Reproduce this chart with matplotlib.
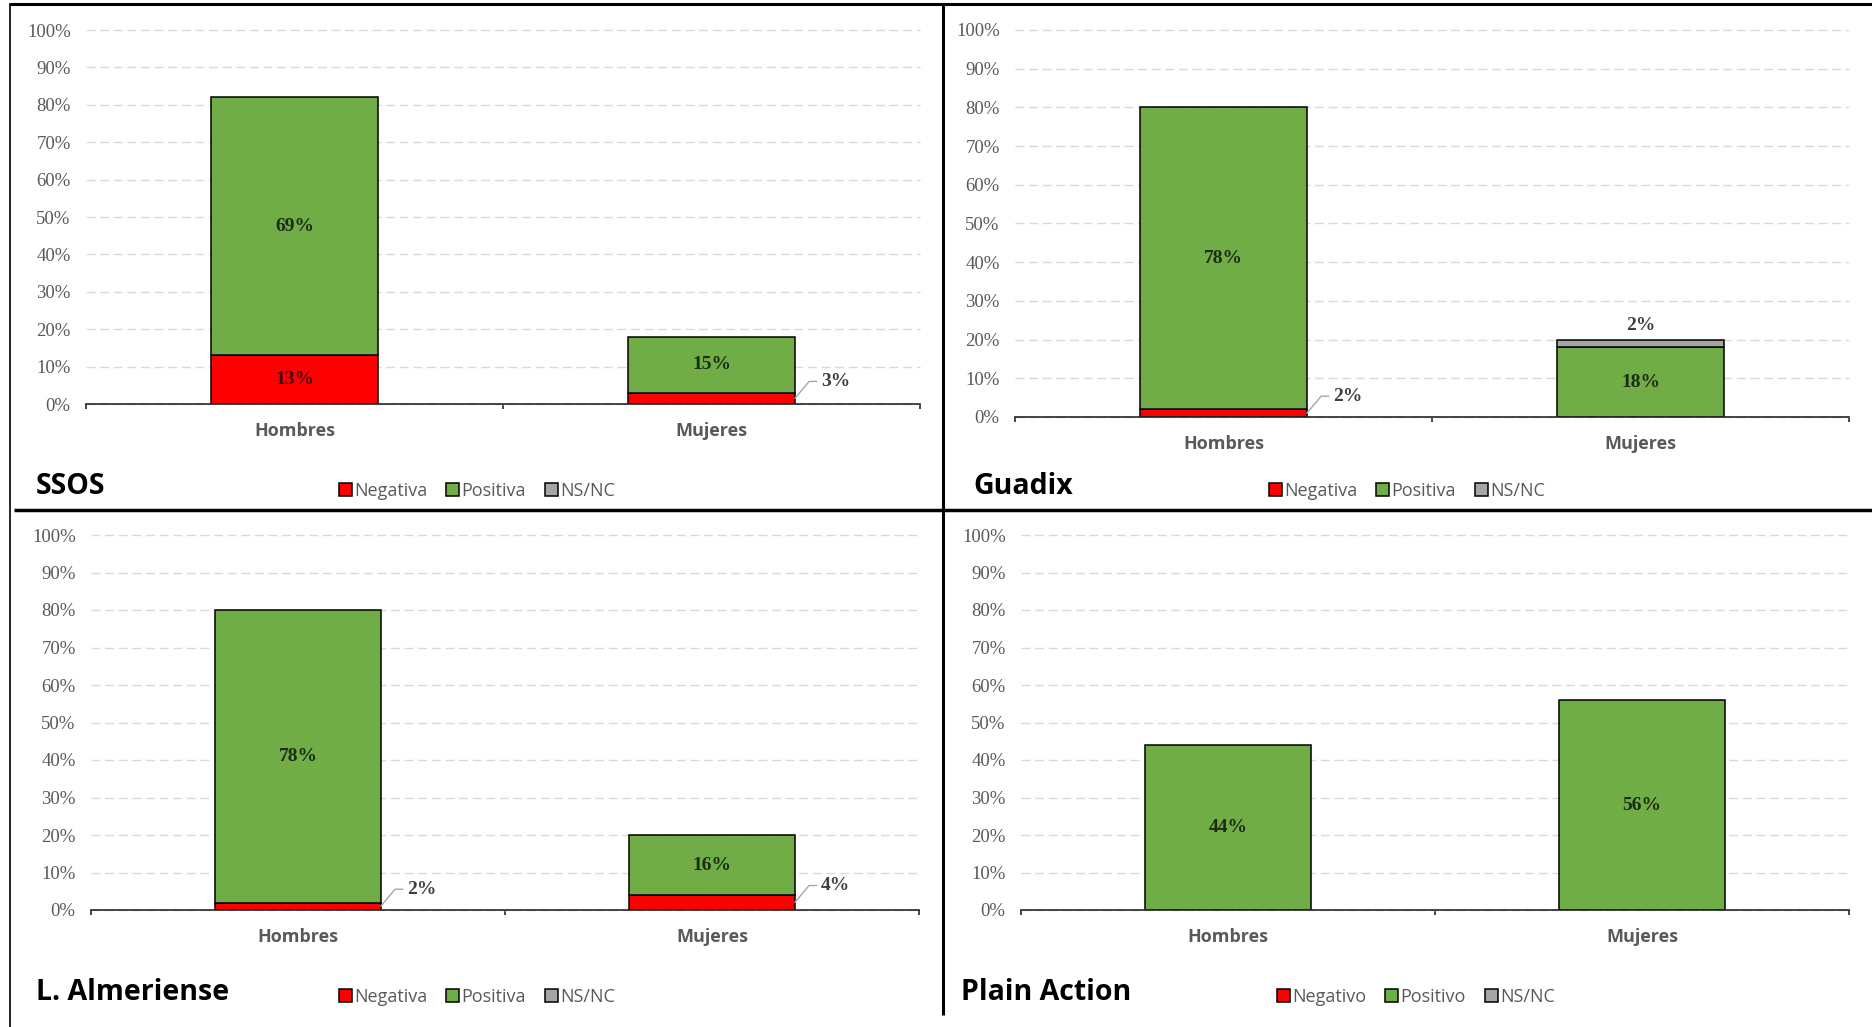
import matplotlib
matplotlib.use("Agg")
import matplotlib.pyplot as plt
from matplotlib.lines import Line2D
from matplotlib.patches import Patch

# ---- data -------------------------------------------------------------
categories = ["Hombres", "Mujeres"]

ssos_negativa = [13, 3]
ssos_positiva = [69, 15]
ssos_nsnc = [0, 0]

guadix_negativa = [2, 0]
guadix_positiva = [78, 18]
guadix_nsnc = [0, 2]

almeriense_negativa = [2, 4]
almeriense_positiva = [78, 16]
almeriense_nsnc = [0, 0]

plain_negativo = [0, 0]
plain_positivo = [44, 56]
plain_nsnc = [0, 0]

titles = ["SSOS", "Guadix", "L. Almeriense", "Plain Action"]
legend_a = ["Negativa", "Positiva", "NS/NC"]
legend_o = ["Negativo", "Positivo", "NS/NC"]
y_ticks = [0, 10, 20, 30, 40, 50, 60, 70, 80, 90, 100]

# ---- style ------------------------------------------------------------
W, H = 1872, 1027
DPI = 100
COLORS = ["#FF0000", "#70AD47", "#A5A5A5"]
GRID = "#D9D9D9"
GRAY_TXT = "#595959"
SANS = ["Open Sans", "Lato", "DejaVu Sans"]
SERIF = ["Liberation Serif", "DejaVu Serif"]

fig = plt.figure(figsize=(W / DPI, H / DPI), dpi=DPI, facecolor="white")


def fx(px):
    return px / W


def fy(py):
    return 1 - py / H


def make_axes(left, right, top, bottom):
    return fig.add_axes([fx(left), fy(bottom), fx(right - left), (bottom - top) / H])


panels = [
    dict(ax=make_axes(86, 920, 30, 404), series=[ssos_negativa, ssos_positiva, ssos_nsnc],
         title=titles[0], title_xy=(36, 487), legend=legend_a, legend_xy=(339, 491)),
    dict(ax=make_axes(1015, 1849, 30, 417), series=[guadix_negativa, guadix_positiva, guadix_nsnc],
         title=titles[1], title_xy=(973, 487), legend=legend_a, legend_xy=(1269, 491)),
    dict(ax=make_axes(91, 919, 535, 910), series=[almeriense_negativa, almeriense_positiva, almeriense_nsnc],
         title=titles[2], title_xy=(36, 992), legend=legend_a, legend_xy=(339, 997)),
    dict(ax=make_axes(1021, 1849, 535, 910), series=[plain_negativo, plain_positivo, plain_nsnc],
         title=titles[3], title_xy=(961, 992), legend=legend_o, legend_xy=(1277, 997)),
]

BAR_W = 0.40
label_kw = dict(family=SERIF, weight="bold", fontsize=14, color="black", alpha=0.75)

for p in panels:
    ax = p["ax"]
    x = list(range(len(categories)))
    bottoms = [0] * len(categories)
    segs = []  # (x, bottom, value, series index)
    for s_idx, vals in enumerate(p["series"]):
        for i, v in enumerate(vals):
            if v <= 0:
                continue
            ax.bar(i, v, bottom=bottoms[i], width=BAR_W, color=COLORS[s_idx],
                   edgecolor="black", linewidth=1.1, zorder=3)
            segs.append([i, bottoms[i], v, s_idx])
            bottoms[i] += v

    # value labels
    for i, b, v, s_idx in segs:
        top_total = bottoms[i]
        is_top = abs(b + v - top_total) < 1e-9
        txt = f"{v}%"
        if v >= 10:
            ax.text(i, b + v / 2, txt, ha="center", va="center", zorder=5, **label_kw)
        elif is_top and b > 0:
            ax.annotate(txt, xy=(i, b + v), xytext=(0, 14), textcoords="offset pixels",
                        ha="center", va="center", zorder=5, **label_kw)
        else:
            edge = i + BAR_W / 2
            ax.annotate("", xy=(edge, b + v / 2), xytext=(22, 17), textcoords="offset pixels",
                        arrowprops=dict(arrowstyle="-", color="#A6A6A6", lw=1.0,
                                        shrinkA=0, shrinkB=0,
                                        connectionstyle="angle,angleA=0,angleB=50,rad=0"),
                        zorder=4)
            ax.annotate(txt, xy=(edge, b + v / 2), xytext=(26, 17), textcoords="offset pixels",
                        ha="left", va="center", zorder=5, **label_kw)

    ax.set_xlim(-0.5, len(categories) - 0.5)
    ax.set_ylim(0, 100)
    ax.set_yticks(y_ticks)
    ax.set_yticklabels([f"{t}%" for t in y_ticks], family=SERIF, fontsize=13.5, color=GRAY_TXT)
    ax.tick_params(axis="y", length=0, pad=11)

    ax.set_xticks(x)
    ax.set_xticklabels(categories, family=SANS, fontsize=13, weight="bold", color=GRAY_TXT)
    ax.set_xticks([k - 0.5 for k in range(len(categories) + 1)], minor=True)
    ax.tick_params(axis="x", which="major", length=0, pad=13)
    ax.tick_params(axis="x", which="minor", length=3.8, width=1.2, color="#262626", direction="out")

    for side in ("top", "right", "left"):
        ax.spines[side].set_visible(False)
    ax.spines["bottom"].set_color("#262626")
    ax.spines["bottom"].set_linewidth(1.2)
    ax.spines["bottom"].set_zorder(4)

    ax.yaxis.grid(True, color=GRID, linewidth=1.0, linestyle=(0, (6.5, 3.3)))
    ax.set_axisbelow(True)
    for gl in ax.get_ygridlines():
        gl.set_clip_on(False)

    # panel title
    tx, ty = p["title_xy"]
    fig.text(fx(tx), fy(ty), p["title"], ha="left", va="center", family=SANS,
             weight="bold", fontsize=20.5, color="black")

    # legend
    handles = [Patch(facecolor=c, edgecolor="black", linewidth=1.1) for c in COLORS]
    lx, ly = p["legend_xy"]
    fig.legend(handles, p["legend"], loc="center left", bbox_to_anchor=(fx(lx), fy(ly)),
               ncol=3, frameon=False, handlelength=0.72, handleheight=0.72,
               handletextpad=0.12, columnspacing=1.05, borderpad=0, borderaxespad=0,
               labelcolor=GRAY_TXT, prop=dict(family=SANS, size=13))

# frame lines between the panels
frame = [
    ((10, 1872), (4, 4), 2.2),      # top edge
    ((10, 10), (3, 1027), 1.2),     # left edge
    ((943, 943), (3, 1015), 2.2),   # vertical divider
    ((14, 1872), (510, 510), 2.5),  # horizontal divider
]
for (x0, x1), (y0, y1), lw in frame:
    fig.add_artist(Line2D([fx(x0), fx(x1)], [fy(y0), fy(y1)], transform=fig.transFigure,
                          color="black", linewidth=lw, solid_capstyle="butt"))

fig.savefig("out.png", dpi=DPI, facecolor="white")
